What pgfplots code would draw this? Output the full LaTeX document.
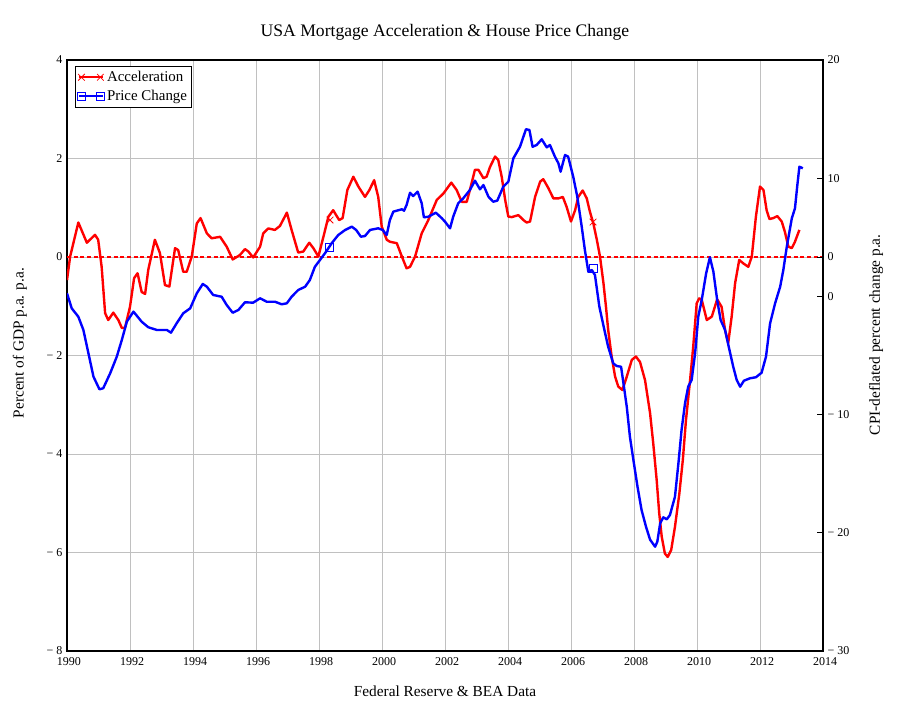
\documentclass[border=0pt]{standalone}
\usepackage{fontspec}
\setmainfont{Liberation Serif}
\usepackage{pgfplots}
\pgfplotsset{compat=1.18}
\definecolor{gridgray}{RGB}{192,192,192}
\definecolor{pured}{RGB}{255,0,0}

\pgfplotsset{
  twomarks/.style={legend image code/.code={
    \draw[##1] (0cm,0cm) -- (0.64cm,0cm);
    \draw[##1] plot[only marks, mark=#1] coordinates {(0.07cm,0cm) (0.57cm,0cm)};
  }},
  every axis/.append style={
    scale only axis, width=567pt, height=443.25pt,
    xmin=1990, xmax=2014,
    /pgf/number format/assume math mode=true,
    tick label style={font=\fontsize{9}{11}\selectfont},
    axis line style={line width=0.9pt},
  },
}

\begin{document}
\begin{tikzpicture}
\begin{axis}[name=main,
  ymin=-8, ymax=4,
  ytick={-8,-6,-4,-2,0,2,4},
  yticklabels={− 8,− 6,− 4,− 2,0,2,4},
  xtick={1990,1992,1994,1996,1998,2000,2002,2004,2006,2008,2010,2012,2014},
  xticklabels={1990,1992,1994,1996,1998,2000,2002,2004,2006,2008,2010,2012,2014},
  xticklabel style={yshift=-1.5pt, xshift=1.5pt},
  grid=major, grid style={gridgray, line width=0.7pt},
  major tick length=0pt,
  title={USA Mortgage Acceleration \& House Price Change},
  title style={at={(axis description cs:0.5,1.0338)}, anchor=center, font=\fontsize{13.2}{15}\selectfont},
  xlabel={Federal Reserve \& BEA Data},
  xlabel style={at={(axis description cs:0.5,-0.0677)}, anchor=center, font=\fontsize{11.5}{13}\selectfont},
  ylabel={Percent of GDP p.a. p.a.},
  ylabel style={at={(axis description cs:-0.0622,0.521)}, anchor=center, font=\fontsize{11.5}{13}\selectfont},
  legend style={at={(axis description cs:0.0106,0.9898)}, anchor=north west, draw=black, line width=0.6pt,
    font=\fontsize{11.2}{13}\selectfont, inner sep=1.5pt, row sep=1pt, cells={anchor=west}},
]
\addplot[draw=pured, dash pattern=on 3pt off 2pt, line width=0.85pt, forget plot] coordinates {(1990,0) (2014,0)};
\addplot[red, line width=1.8pt, line join=round, mark options={line width=0.6pt, solid}, mark size=3.5pt, twomarks=x] coordinates {
(1990.00,-0.47) (1990.10,0.01) (1990.36,0.70) (1990.63,0.29) (1990.89,0.45) (1990.99,0.35)
(1991.10,-0.20) (1991.21,-1.14) (1991.31,-1.28) (1991.47,-1.13) (1991.63,-1.28) (1991.74,-1.44)
(1991.84,-1.44) (1992.00,-1.01) (1992.13,-0.43) (1992.24,-0.33) (1992.37,-0.71) (1992.48,-0.75)
(1992.58,-0.26) (1992.79,0.35) (1992.95,0.08) (1993.11,-0.57) (1993.25,-0.60) (1993.43,0.18)
(1993.53,0.14) (1993.69,-0.30) (1993.80,-0.30) (1993.96,0.01) (1994.12,0.68) (1994.24,0.79)
(1994.44,0.48) (1994.59,0.38) (1994.86,0.41) (1995.07,0.21) (1995.26,-0.05) (1995.49,0.04)
(1995.65,0.16) (1995.76,0.11) (1995.91,-0.01) (1996.13,0.21) (1996.23,0.48) (1996.39,0.58)
(1996.60,0.55) (1996.76,0.63) (1996.98,0.90) (1997.13,0.55) (1997.34,0.09) (1997.50,0.11)
(1997.69,0.29) (1997.82,0.18) (1997.98,0.01) (1998.14,0.41) (1998.30,0.82) (1998.45,0.95)
(1998.64,0.75) (1998.75,0.79) (1998.90,1.36) (1999.09,1.63) (1999.25,1.43) (1999.46,1.22)
(1999.60,1.36) (1999.75,1.56) (1999.88,1.22) (1999.99,0.62) (2000.15,0.35) (2000.25,0.31)
(2000.47,0.28) (2000.63,0.01) (2000.78,-0.23) (2000.89,-0.20) (2001.05,0.01) (2001.26,0.48)
(2001.47,0.75) (2001.74,1.16) (2001.95,1.29) (2002.20,1.51) (2002.37,1.36) (2002.53,1.12)
(2002.69,1.12) (2002.79,1.36) (2002.95,1.77) (2003.06,1.77) (2003.22,1.60) (2003.32,1.63)
(2003.43,1.83) (2003.59,2.04) (2003.69,1.97) (2003.80,1.63) (2003.91,1.16) (2004.01,0.82)
(2004.12,0.81) (2004.33,0.85) (2004.49,0.75) (2004.59,0.70) (2004.70,0.72) (2004.86,1.22)
(2005.02,1.53) (2005.12,1.58) (2005.28,1.40) (2005.44,1.19) (2005.60,1.19) (2005.74,1.22)
(2005.86,1.02) (2006.00,0.72) (2006.13,0.95) (2006.23,1.22) (2006.37,1.35) (2006.50,1.19)
(2006.60,0.92) (2006.71,0.68) (2006.82,0.35) (2006.92,0.01) (2007.03,-0.53) (2007.11,-1.01)
(2007.18,-1.48) (2007.29,-2.02) (2007.40,-2.43) (2007.50,-2.63) (2007.63,-2.70) (2007.77,-2.43)
(2007.93,-2.09) (2008.06,-2.02) (2008.19,-2.13) (2008.35,-2.50) (2008.51,-3.17) (2008.61,-3.78)
(2008.72,-4.53) (2008.80,-5.20) (2008.88,-5.68) (2008.98,-6.02) (2009.07,-6.09) (2009.18,-5.95)
(2009.30,-5.48) (2009.44,-4.80) (2009.55,-4.12) (2009.65,-3.31) (2009.78,-2.50) (2009.88,-1.82)
(2009.99,-0.94) (2010.07,-0.84) (2010.15,-0.87) (2010.31,-1.28) (2010.47,-1.21) (2010.64,-0.86)
(2010.78,-1.01) (2010.89,-1.48) (2010.99,-1.75) (2011.10,-1.21) (2011.21,-0.53) (2011.34,-0.06)
(2011.47,-0.13) (2011.63,-0.20) (2011.74,0.01) (2011.87,0.82) (2012.00,1.43) (2012.11,1.36)
(2012.21,0.95) (2012.30,0.77) (2012.42,0.79) (2012.55,0.83) (2012.69,0.72) (2012.79,0.51)
(2012.90,0.21) (2013.01,0.18) (2013.11,0.31) (2013.25,0.55)
};
\addlegendentry{Acceleration}
\addplot[red, only marks, mark=x, mark size=3.5pt, mark options={line width=0.6pt}, forget plot]
  coordinates {(1998.35,0.75) (2006.70,0.71)};
\addlegendimage{blue, line width=1.8pt, mark options={line width=0.6pt, solid}, mark size=3pt, twomarks=square}
\addlegendentry{Price Change}
\end{axis}

\begin{axis}[
  axis x line=none, axis y line*=right,
  ymin=-30, ymax=20,
  ytick={-30,-20,-10,0,3.333,10,20},
  yticklabels={− 30,− 20,− 10,0,0,10,20},
  tick align=inside, major tick length=4.5pt, tick style={black, line width=0.7pt},
  ylabel={CPI-deflated percent change p.a.},
  ylabel style={at={(axis description cs:1.0701,0.535)}, anchor=center, font=\fontsize{11.5}{13}\selectfont},
]
\addplot[blue, line width=1.8pt, line join=round] coordinates {
(1990.00,0.26) (1990.15,-1.01) (1990.36,-1.72) (1990.52,-2.84) (1990.68,-4.81) (1990.84,-6.79)
(1991.03,-7.86) (1991.15,-7.77) (1991.37,-6.51) (1991.58,-5.10) (1991.74,-3.69) (1991.90,-2.14)
(1992.11,-1.29) (1992.37,-2.14) (1992.58,-2.61) (1992.85,-2.84) (1993.17,-2.84) (1993.30,-3.07)
(1993.48,-2.28) (1993.69,-1.43) (1993.91,-1.01) (1994.12,0.26) (1994.31,1.05) (1994.44,0.82)
(1994.64,0.12) (1994.91,-0.03) (1995.07,-0.73) (1995.26,-1.38) (1995.44,-1.15) (1995.65,-0.50)
(1995.91,-0.53) (1996.13,-0.16) (1996.34,-0.45) (1996.60,-0.45) (1996.82,-0.67) (1996.98,-0.58)
(1997.13,-0.03) (1997.34,0.54) (1997.56,0.82) (1997.71,1.39) (1997.87,2.51) (1998.03,3.08)
(1998.19,3.65) (1998.40,4.49) (1998.61,5.19) (1998.83,5.62) (1999.04,5.90) (1999.18,5.62)
(1999.33,5.05) (1999.46,5.11) (1999.62,5.62) (1999.88,5.76) (2000.02,5.62) (2000.15,5.19)
(2000.25,6.46) (2000.36,7.17) (2000.63,7.37) (2000.70,7.25) (2000.78,7.73) (2000.89,8.77)
(2000.99,8.49) (2001.13,8.86) (2001.26,7.88) (2001.33,6.69) (2001.47,6.74) (2001.71,7.08)
(2001.90,6.61) (2002.00,6.32) (2002.16,5.76) (2002.26,6.74) (2002.42,7.88) (2002.58,8.30)
(2002.79,9.00) (2002.95,9.79) (2003.11,9.06) (2003.22,9.42) (2003.38,8.43) (2003.53,8.01)
(2003.66,8.10) (2003.85,9.28) (2004.01,9.70) (2004.17,11.68) (2004.38,12.66) (2004.57,14.14)
(2004.68,14.08) (2004.78,12.66) (2004.91,12.81) (2005.07,13.29) (2005.23,12.61) (2005.33,12.81)
(2005.49,11.82) (2005.60,11.26) (2005.67,10.55) (2005.81,11.96) (2005.91,11.82) (2006.07,10.13)
(2006.20,8.43) (2006.34,5.90) (2006.44,3.93) (2006.55,2.09) (2006.66,2.23) (2006.76,1.81)
(2006.90,-0.87) (2007.06,-2.84) (2007.18,-4.26) (2007.34,-5.66) (2007.45,-5.89) (2007.59,-5.95)
(2007.68,-7.64) (2007.77,-9.33) (2007.87,-11.87) (2007.98,-13.83) (2008.11,-16.08) (2008.24,-18.07)
(2008.38,-19.48) (2008.51,-20.58) (2008.67,-21.18) (2008.74,-20.75) (2008.83,-19.20) (2008.93,-18.69)
(2009.04,-18.86) (2009.14,-18.50) (2009.30,-16.95) (2009.41,-14.12) (2009.51,-11.30) (2009.62,-9.04)
(2009.72,-7.64) (2009.83,-7.07) (2009.94,-4.81) (2010.04,-1.72) (2010.15,-0.30) (2010.29,1.95)
(2010.41,3.31) (2010.52,2.09) (2010.64,-0.30) (2010.75,-2.00) (2010.89,-2.84) (2011.03,-4.53)
(2011.15,-5.95) (2011.26,-7.07) (2011.37,-7.64) (2011.49,-7.13) (2011.68,-6.93) (2011.87,-6.84)
(2012.05,-6.46) (2012.19,-5.10) (2012.32,-2.28) (2012.48,-0.58) (2012.64,0.82) (2012.74,2.23)
(2012.85,4.20) (2013.01,6.61) (2013.11,7.45) (2013.18,9.28) (2013.25,10.97) (2013.36,10.84)
};
\addplot[blue, only marks, mark=square, mark size=3pt, mark options={line width=0.6pt}]
  coordinates {(1998.32,4.18) (2006.70,2.40)};
\end{axis}
\path ([shift={(-50.25pt,-48pt)}]main.south west) rectangle ([shift={(55.5pt,45pt)}]main.north east);
\end{tikzpicture}
\end{document}
